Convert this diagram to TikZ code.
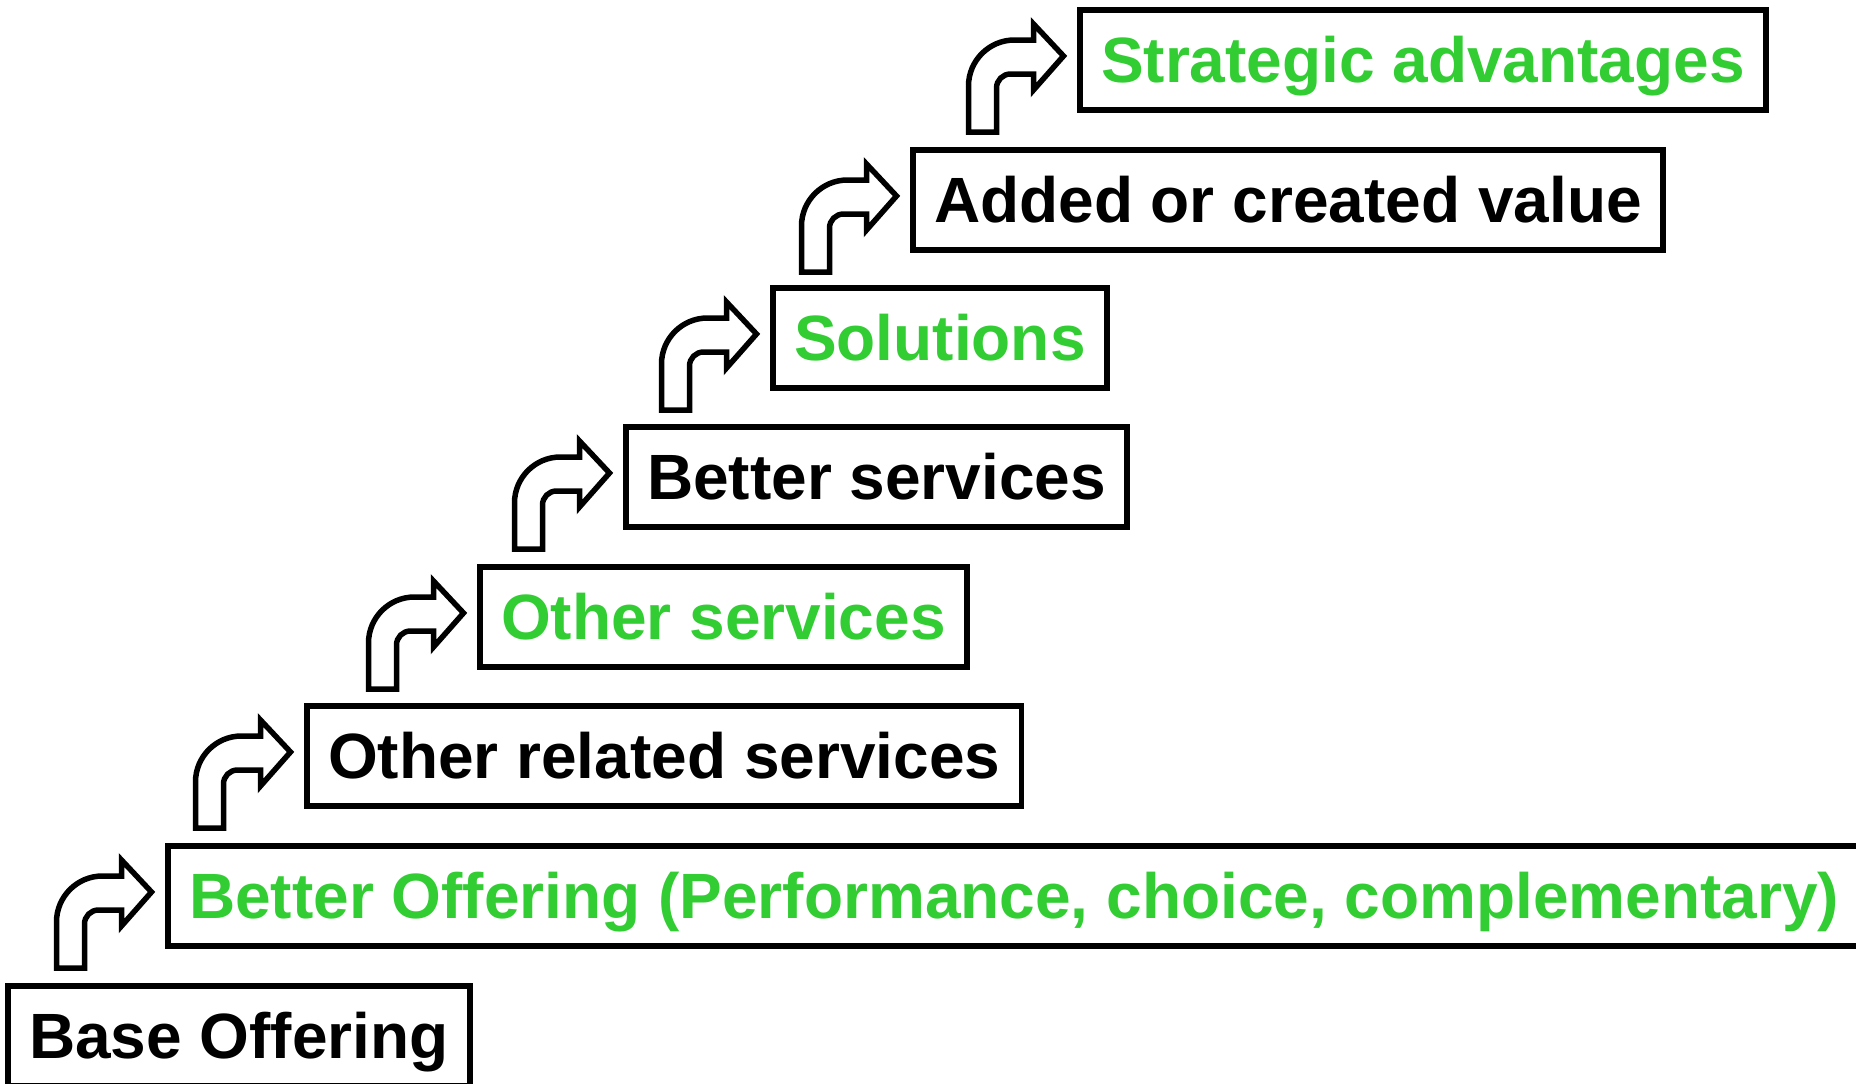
\documentclass[tikz,border=0pt]{standalone}
\usepackage{fontspec}
\setmainfont{Liberation Sans}
\usetikzlibrary{calc}
\definecolor{stepgreen}{RGB}{50,205,50}
\begin{document}
\begin{tikzpicture}[x=1pt,y=-1pt,
  level/.style={draw=black, line width=5.5pt, fill=white, anchor=west,
    inner xsep=21.25pt, inner ysep=0pt, minimum height=100pt,
    text height=45pt, text depth=0pt,
    font=\fontsize{64}{72}\selectfont\bfseries},
  greenlevel/.style={level, text=stepgreen},
  blacklevel/.style={level, text=black},
  turnarrow/.pic={
    \draw[line width=5.5pt, fill=white, line join=miter]
      (-3,0) -- (-33,-32) -- (-33,-16) -- (-52,-16)
      .. controls (-77.4,-16) and (-98,4.6) .. (-98,30)
      -- (-98,76) -- (-70,76) -- (-70,32)
      .. controls (-70,24.3) and (-63.7,18) .. (-56,18)
      -- (-33,18) -- (-33,34) -- cycle;
  }
]
\useasboundingbox (0,0) rectangle (1856,1084);

% the steps, from the top down (west anchors sit on the outer edge of the frame)
\node[greenlevel] (b1) at (1077,60)  {Strategic advantages};
\node[blacklevel] (b2) at (910,200)  {Added or created value};
\node[greenlevel] (b3) at (770,338)  {Solutions};
\node[blacklevel] (b4) at (623,477)  {Better services};
\node[greenlevel] (b5) at (477,617)  {Other services};
\node[blacklevel] (b6) at (304,756)  {Other related services};
\node[greenlevel] (b7) at (165,896)  {Better Offering (Performance, choice, complementary)};
\node[blacklevel] (b8) at (5,1036)   {Base Offering};

% bent arrows leading up to each step
\foreach \n in {1,...,7}{
  \pic (a\n) at ($(b\n.west)+(-10.5,-4)$) {turnarrow};
}
\end{tikzpicture}
\end{document}
